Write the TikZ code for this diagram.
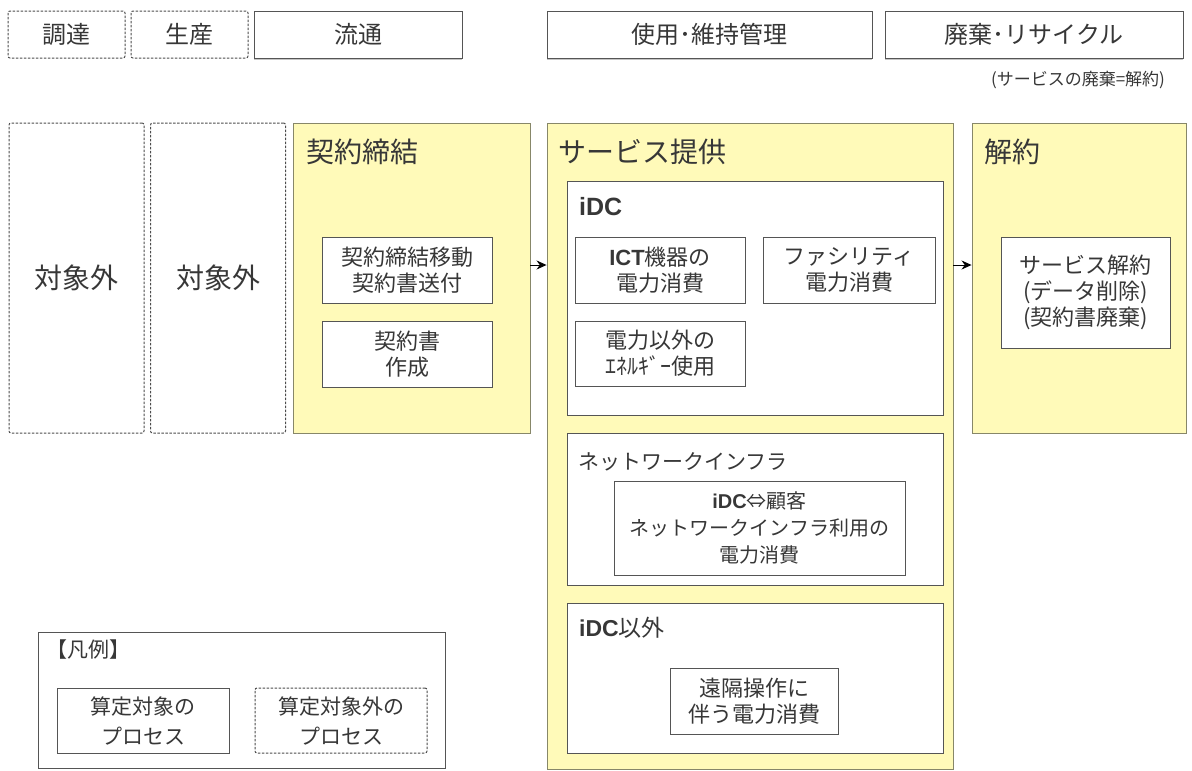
\documentclass[tikz,border=0pt]{standalone}
\usepackage{fontspec}
\setmainfont{Noto Sans CJK JP}
\newfontfamily\latbf{Liberation Sans}
\usetikzlibrary{arrows.meta}
\usetikzlibrary{shadows}

\definecolor{procfill}{RGB}{255,250,185}
\definecolor{procline}{RGB}{135,135,105}
\definecolor{boxline}{RGB}{85,85,85}
\definecolor{txt}{RGB}{55,55,55}

\newcommand{\sz}[2]{\fontsize{#1}{#2}\selectfont}
\newcommand{\bl}[1]{{\latbf\bfseries #1}}

\begin{document}
\begin{tikzpicture}[x=1pt,y=-1pt,>={Stealth[length=10pt,width=9pt]},
	every node/.style={text=txt,inner sep=0pt},
	phase/.style={draw=boxline,fill=white,line width=0.8pt,minimum height=47pt,font=\sz{24}{28},
		drop shadow={shadow xshift=0pt,shadow yshift=-2pt,fill=black!45}},
	outphase/.style={draw=boxline!90!black,line width=1pt,dash pattern=on 2.5pt off 1.5pt,rounded corners=2pt,minimum height=47pt,font=\sz{24}{28}},
	stage/.style={draw=procline,fill=procfill,line width=0.9pt},
	group/.style={draw=boxline,fill=white,line width=0.8pt},
	proc/.style={draw=boxline,fill=white,line width=0.8pt,align=center,font=\sz{22}{26}},
	outproc/.style={draw=boxline!90!black,line width=1pt,dash pattern=on 2.5pt off 1.5pt,rounded corners=2pt,align=center,font=\sz{22}{26}},
	title/.style={anchor=west,font=\sz{28}{32}},
	subtitle/.style={anchor=west,font=\sz{23}{27}}]
	
	\useasboundingbox (0,0) rectangle (1192,771);
	
	% life cycle phases
	\node[outphase,minimum width=117pt] (chotatsu) at (66.5,34.5) {調達};
	\node[outphase,minimum width=117pt] (seisan) at (189.5,34.5) {生産};
	\node[phase,minimum width=208pt] (ryutsu) at (358,34.5) {流通};
	\node[phase,minimum width=325pt] (shiyo) at (709.5,34.5) {使用･維持管理};
	\node[phase,minimum width=298pt] (haiki) at (1034,34.5) {廃棄･リサイクル};
	\node[font=\sz{17}{20}] (haikinote) at (1078,80) {(サービスの廃棄=解約)};
	
	% out of scope
	\node[outproc,minimum width=135pt,minimum height=310pt,font=\sz{28}{32}] (gai1) at (76.5,278) {対象外};
	\node[outproc,minimum width=135pt,minimum height=310pt,font=\sz{28}{32}] (gai2) at (218,278) {対象外};
	
	% contract
	\node[stage,minimum width=237pt,minimum height=310pt] (keiyaku) at (411.5,278) {};
	\node[title] (keiyakut) at (306,152) {契約締結};
	\node[proc,minimum width=170pt,minimum height=66pt] (idou) at (407,270) {契約締結移動\\契約書送付};
	\node[proc,minimum width=170pt,minimum height=66pt] (sakusei) at (407,354) {契約書\\作成};
	
	% service
	\node[stage,minimum width=406pt,minimum height=646pt] (teikyo) at (750,446) {};
	\node[title] (teikyot) at (558,152) {サービス提供};
	
	\node[group,minimum width=376pt,minimum height=234pt] (idc) at (755,298) {};
	\node[subtitle,font=\latbf\bfseries\sz{25}{28}] (idct) at (579,207) {iDC};
	\node[proc,minimum width=170pt,minimum height=66pt] (ict) at (660,270) {\bl{ICT}機器の\\電力消費};
	\node[proc,minimum width=172pt,minimum height=66pt] (fac) at (849,270) {ファシリティ\\電力消費};
	\node[proc,minimum width=170pt,minimum height=65pt] (energy) at (660,353.5) {電力以外の\\ｴﾈﾙｷﾞｰ使用};
	
	\node[group,minimum width=376pt,minimum height=152pt] (net) at (755,509) {};
	\node[subtitle,font=\sz{21}{25}] (nett) at (578,462) {ネットワークインフラ};
	\node[proc,minimum width=291pt,minimum height=94pt,font=\sz{20}{27}] (netuse) at (759.5,528) {\bl{iDC}⇔顧客\\ネットワークインフラ利用の\\電力消費};
	
	\node[group,minimum width=376pt,minimum height=150pt] (other) at (755,678) {};
	\node[subtitle] (othert) at (579,628) {\bl{iDC}以外};
	\node[proc,minimum width=168pt,minimum height=66pt] (remote) at (754,701) {遠隔操作に\\伴う電力消費};
	
	% termination
	\node[stage,minimum width=214pt,minimum height=310pt] (kaiyaku) at (1079,278) {};
	\node[title] (kaiyakut) at (984,152) {解約};
	\node[proc,minimum width=169pt,minimum height=111pt] (shuryo) at (1085.5,292.5) {サービス解約\\(データ削除)\\(契約書廃棄)};
	
	% flow
	\coordinate (arr) at (0,265);
	\draw[->,line width=1pt] (keiyaku.east |- arr) -- (teikyo.west |- arr);
	\draw[->,line width=1pt] (teikyo.east |- arr) -- (kaiyaku.west |- arr);
	
	% legend
	\node[group,minimum width=407pt,minimum height=136pt] (legend) at (241.5,700) {};
	\node[anchor=west,font=\sz{21}{25}] (legendt) at (46,650) {【凡例】};
	\node[proc,minimum width=172pt,minimum height=65pt,font=\sz{21}{30}] (incl) at (143,720.5) {算定対象の\\プロセス};
	\node[outproc,minimum width=172pt,minimum height=65pt,font=\sz{21}{30}] (excl) at (341,720.5) {算定対象外の\\プロセス};
\end{tikzpicture}
\end{document}
